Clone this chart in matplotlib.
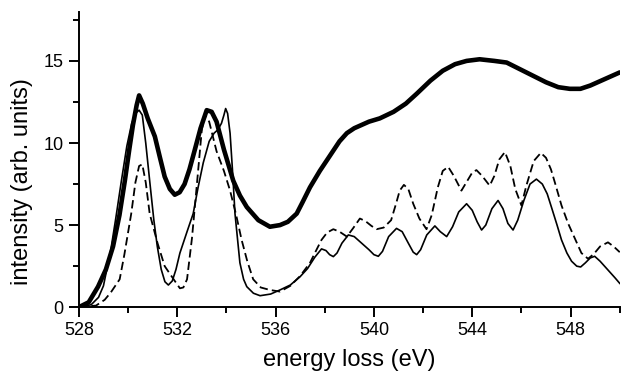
import matplotlib
matplotlib.use("Agg")
import matplotlib.pyplot as plt
from matplotlib.ticker import MultipleLocator

plt.rcParams["font.family"] = ["Liberation Sans", "DejaVu Sans"]
plt.rcParams["lines.scale_dashes"] = False

# experimental spectrum (thick line)
exp_energy = [528.0, 528.4, 528.78, 529.1, 529.39, 529.65, 529.87, 530.05, 530.2, 530.35, 530.45,
              530.6, 530.8, 531.09, 531.3, 531.49, 531.7, 531.9, 532.1, 532.3, 532.5, 532.7,
              532.95, 533.2, 533.4, 533.6, 533.9, 534.28, 534.55, 534.83, 535.3, 535.77,
              536.18, 536.5, 536.86, 537.1, 537.4, 537.8, 538.2, 538.6, 538.9, 539.2, 539.5,
              539.8, 540.24, 540.8, 541.3, 541.74, 542.3, 542.8, 543.3, 543.77, 544.3, 544.9,
              545.4, 545.8, 546.2, 546.6, 547.0, 547.5, 547.97, 548.4, 548.8, 549.4, 550.0]
exp_intensity = [0.0, 0.3, 1.25, 2.3, 3.7, 5.6, 7.7, 9.6, 11.1, 12.3, 12.9,
                 12.4, 11.5, 10.4, 9.1, 7.95, 7.2, 6.85, 7.0, 7.5, 8.4, 9.5,
                 10.9, 12.0, 11.9, 11.3, 9.6, 7.7, 6.8, 6.1, 5.3, 4.9,
                 5.0, 5.2, 5.7, 6.4, 7.3, 8.3, 9.2, 10.1, 10.6, 10.9, 11.1,
                 11.3, 11.5, 11.9, 12.4, 13.0, 13.8, 14.4, 14.8, 15.0, 15.1, 15.0,
                 14.9, 14.6, 14.3, 14.0, 13.7, 13.4, 13.3, 13.3, 13.5, 13.9, 14.3]

# calculation 1 (thin solid line)
calc1_energy = [528.0, 528.5, 528.8, 529.0, 529.3, 529.5, 529.73, 529.95, 530.15, 530.3, 530.45,
                530.58, 530.72, 530.88, 531.05, 531.19, 531.35, 531.5, 531.64, 531.8, 531.95,
                532.11, 532.4, 532.65, 532.85, 533.06, 533.3, 533.5, 533.65, 533.8, 533.9, 533.97,
                534.05, 534.15, 534.25, 534.35, 534.55, 534.7, 534.83, 535.1, 535.37, 535.8,
                536.18, 536.6, 537.0, 537.3, 537.6, 537.87, 538.05, 538.2, 538.35, 538.5, 538.7,
                538.96, 539.2, 539.5, 539.8, 540.0, 540.18, 540.35, 540.6, 540.92, 541.15, 541.4,
                541.6, 541.74, 541.9, 542.15, 542.48, 542.7, 542.96, 543.2, 543.45, 543.77, 544.0,
                544.2, 544.38, 544.55, 544.8, 545.05, 545.25, 545.45, 545.66, 545.85, 546.1,
                546.35, 546.61, 546.85, 547.05, 547.22, 547.45, 547.63, 547.85, 548.04, 548.25,
                548.41, 548.6, 548.8, 548.98, 549.2, 549.5, 549.8, 550.0]
calc1_intensity = [0.0, 0.15, 0.6, 1.3, 3.5, 5.4, 7.7, 9.8, 11.2, 11.8, 12.0,
                   11.7, 10.0, 7.7, 5.3, 3.7, 2.3, 1.55, 1.35, 1.6, 2.3,
                   3.3, 4.6, 5.7, 7.3, 8.8, 10.1, 10.6, 10.8, 11.2, 11.7, 12.1,
                   11.8, 10.6, 8.3, 5.7, 2.7, 1.7, 1.25, 0.85, 0.7, 0.8,
                   1.05, 1.35, 1.86, 2.35, 3.05, 3.55, 3.45, 3.2, 3.08, 3.3, 3.9,
                   4.4, 4.3, 3.9, 3.5, 3.2, 3.1, 3.4, 4.3, 4.8, 4.6, 3.9,
                   3.35, 3.2, 3.5, 4.4, 4.95, 4.6, 4.3, 4.9, 5.8, 6.3, 5.9,
                   5.2, 4.7, 5.0, 6.0, 6.5, 6.0, 5.1, 4.7, 5.3, 6.5,
                   7.5, 7.8, 7.5, 6.9, 6.1, 5.0, 4.1, 3.3, 2.8, 2.5,
                   2.45, 2.7, 3.0, 3.1, 2.8, 2.3, 1.8, 1.45]

# calculation 2 (dashed line)
calc2_energy = [528.0, 528.7, 529.05, 529.3, 529.66, 529.85, 530.13, 530.3, 530.45, 530.58, 530.72,
                530.88, 531.2, 531.49, 531.9, 532.11, 532.25, 532.4, 532.6, 532.85, 533.0, 533.13,
                533.3, 533.6, 533.9, 534.15, 534.4, 534.62, 534.85, 535.09, 535.4, 535.77,
                536.18, 536.6, 537.0, 537.4, 537.7, 537.87, 538.1, 538.35, 538.6, 538.9, 539.15,
                539.43, 539.65, 539.9, 540.11, 540.4, 540.7, 540.9, 541.05, 541.22, 541.4, 541.6,
                541.85, 542.14, 542.35, 542.6, 542.8, 543.02, 543.25, 543.56, 543.8, 544.0,
                544.17, 544.4, 544.71, 544.9, 545.1, 545.33, 545.55, 545.75, 546.0, 546.2,
                546.5, 546.79, 547.0, 547.2, 547.36, 547.63, 547.9, 548.2, 548.44, 548.71,
                548.95, 549.2, 549.52, 549.75, 550.0]
calc2_intensity = [0.0, 0.1, 0.45, 0.9, 1.7, 3.2, 5.7, 7.6, 8.6, 8.7, 7.6,
                   5.7, 3.9, 2.5, 1.6, 1.15, 1.2, 1.7, 4.2, 8.3, 10.8, 11.7,
                   11.3, 9.5, 8.3, 7.1, 5.6, 4.1, 2.8, 1.7, 1.2, 1.05,
                   0.95, 1.3, 1.9, 2.7, 3.6, 4.1, 4.55, 4.75, 4.6, 4.3, 4.8,
                   5.4, 5.25, 4.95, 4.75, 4.85, 5.3, 6.3, 7.1, 7.45, 7.2, 6.3,
                   5.4, 4.75, 5.6, 7.3, 8.3, 8.55, 8.0, 7.1, 7.7, 8.2,
                   8.35, 8.0, 7.4, 8.0, 9.0, 9.45, 8.6, 7.2, 6.2, 7.4,
                   8.9, 9.4, 9.1, 8.4, 7.6, 6.2, 5.1, 4.1, 3.3, 2.95,
                   3.25, 3.7, 3.95, 3.7, 3.35]

fig = plt.figure(figsize=(6.21, 3.76), dpi=100)
ax = fig.add_axes([0.127, 0.183, 0.871, 0.786])

ax.plot(calc1_energy, calc1_intensity, color="black", lw=1.2, solid_joinstyle="round")
ax.plot(calc2_energy, calc2_intensity, color="black", lw=1.3, dashes=[6, 3])
ax.plot(exp_energy, exp_intensity, color="black", lw=3.3, solid_joinstyle="round",
        solid_capstyle="round")

ax.set_xlim(528, 550)
ax.set_ylim(0, 18)
ax.xaxis.set_major_locator(MultipleLocator(4))
ax.xaxis.set_minor_locator(MultipleLocator(2))
ax.yaxis.set_major_locator(MultipleLocator(5))
ax.yaxis.set_minor_locator(MultipleLocator(2.5))

for side in ["top", "right"]:
    ax.spines[side].set_visible(False)
for side in ["left", "bottom"]:
    ax.spines[side].set_linewidth(1.4)

ax.tick_params(which="major", direction="out", length=7, width=1.4, labelsize=13, pad=4)
ax.tick_params(which="minor", direction="out", length=4, width=1.4)

ax.set_xlabel("energy loss (eV)", fontsize=17)
ax.set_ylabel("intensity (arb. units)", fontsize=17)
ax.xaxis.set_label_coords(0.5, -0.14)
ax.yaxis.set_label_coords(-0.085, 0.4256)

fig.savefig("out.png", dpi=100)
